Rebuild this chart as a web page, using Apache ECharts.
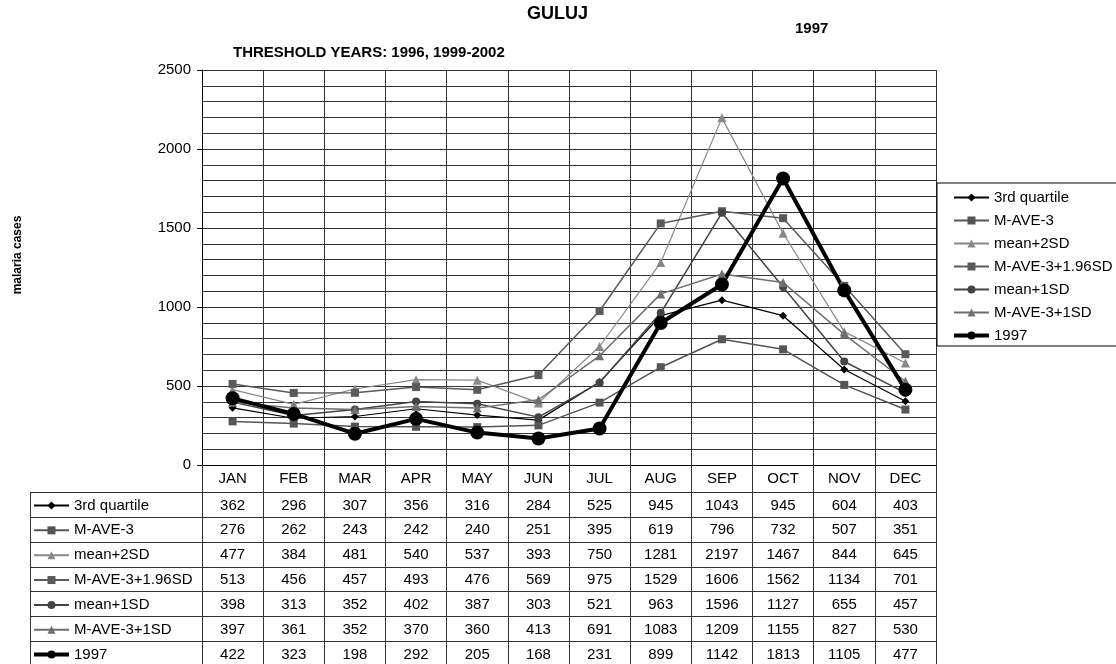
<!DOCTYPE html>
<html>
<head>
    <meta charset="utf-8">
    <title>GULUJ 1997</title>
    <script src="https://cdn.jsdelivr.net/npm/echarts@6/dist/echarts.min.js"></script>
    <style>
        html, body {
            margin: 0;
            padding: 0;
            background: #ffffff;
        }

        #main {
            width: 1116px;
            height: 664px;
        }
    </style>
</head>
<body>
<div id="main"></div>
<script>
    // 数据
    var months = ['JAN', 'FEB', 'MAR', 'APR', 'MAY', 'JUN', 'JUL', 'AUG', 'SEP', 'OCT', 'NOV', 'DEC'];
    var q3 = [362, 296, 307, 356, 316, 284, 525, 945, 1043, 945, 604, 403];
    var mave3 = [276, 262, 243, 242, 240, 251, 395, 619, 796, 732, 507, 351];
    var mean2sd = [477, 384, 481, 540, 537, 393, 750, 1281, 2197, 1467, 844, 645];
    var mave3sd196 = [513, 456, 457, 493, 476, 569, 975, 1529, 1606, 1562, 1134, 701];
    var mean1sd = [398, 313, 352, 402, 387, 303, 521, 963, 1596, 1127, 655, 457];
    var mave3sd1 = [397, 361, 352, 370, 360, 413, 691, 1083, 1209, 1155, 827, 530];
    var y1997 = [422, 323, 198, 292, 205, 168, 231, 899, 1142, 1813, 1105, 477];

    var names = ['3rd quartile', 'M-AVE-3', 'mean+2SD', 'M-AVE-3+1.96SD', 'mean+1SD', 'M-AVE-3+1SD', '1997'];
    var rows = [q3, mave3, mean2sd, mave3sd196, mean1sd, mave3sd1, y1997];

    var FONT = "'Liberation Sans', Arial, sans-serif";
    var rowH = 24.85;

    function lineSeries(name, data, color, symbol, size, width) {
        return {
            name: name,
            type: 'line',
            data: data,
            symbol: symbol,
            symbolSize: size,
            showAllSymbol: true,
            animation: false,
            lineStyle: {color: color, width: width},
            itemStyle: {color: color, borderWidth: 0}
        };
    }

    // 图例项 (1997 用粗线)
    var legendData = names.map(function (n) {
        if (n === '1997') {
            return {name: n, lineStyle: {width: 4}};
        }
        return {name: n};
    });

    var chart = echarts.init(document.getElementById('main'));

    var option = {
        animation: false,
        backgroundColor: '#ffffff',
        title: [
            {text: 'GULUJ', left: 527, top: 5, padding: 0,
                textStyle: {fontFamily: FONT, fontSize: 18, fontWeight: 'bold', color: '#000'}},
            {text: '1997', left: 795, top: 21, padding: 0,
                textStyle: {fontFamily: FONT, fontSize: 15, fontWeight: 'bold', color: '#000'}},
            {text: 'THRESHOLD YEARS: 1996, 1999-2002', left: 233, top: 45, padding: 0,
                textStyle: {fontFamily: FONT, fontSize: 15, fontWeight: 'bold', color: '#000'}}
        ],
        legend: [
            {
                orient: 'vertical',
                left: 937,
                top: 183,
                padding: [7, 5, 3, 15],
                itemGap: 8,
                itemWidth: 35,
                itemHeight: 10,
                borderColor: '#000',
                borderWidth: 1,
                selectedMode: false,
                data: legendData,
                textStyle: {fontFamily: FONT, fontSize: 15, lineHeight: 15, color: '#000'}
            },
            {
                orient: 'vertical',
                left: 32,
                top: 498,
                height: 200,
                padding: 0,
                itemGap: rowH - 15,
                itemWidth: 35,
                itemHeight: 10,
                selectedMode: false,
                data: legendData,
                textStyle: {fontFamily: FONT, fontSize: 15, lineHeight: 15, color: '#000'}
            }
        ],
        grid: {left: 202, right: 180, top: 70, bottom: 199},
        xAxis: {
            type: 'category',
            data: months,
            boundaryGap: true,
            axisLine: {lineStyle: {color: '#000', width: 1}},
            axisTick: {show: true, length: 200, lineStyle: {color: '#333'}},
            axisLabel: {fontFamily: FONT, fontSize: 15, color: '#000', margin: 6, interval: 0},
            splitLine: {show: true, lineStyle: {color: '#333', width: 1}}
        },
        yAxis: {
            type: 'value',
            min: 0,
            max: 2500,
            interval: 500,
            axisLine: {show: true, lineStyle: {color: '#000', width: 1}},
            axisTick: {show: true, length: 5, lineStyle: {color: '#000'}},
            axisLabel: {
                fontFamily: FONT, fontSize: 15, color: '#000', margin: 11,
                formatter: function (v) {
                    return String(v);
                }
            },
            splitLine: {show: true, lineStyle: {color: '#333', width: 1}},
            minorTick: {show: false, splitNumber: 5},
            minorSplitLine: {show: true, lineStyle: {color: '#333', width: 1}}
        },
        series: [
            lineSeries(names[0], q3, '#000000', 'diamond', 8, 1.2),
            lineSeries(names[1], mave3, '#555555', 'rect', 8, 1.5),
            lineSeries(names[2], mean2sd, '#888888', 'triangle', 9, 1.2),
            lineSeries(names[3], mave3sd196, '#5a5a5a', 'rect', 8, 1.5),
            lineSeries(names[4], mean1sd, '#444444', 'circle', 8, 1.5),
            lineSeries(names[5], mave3sd1, '#6e6e6e', 'triangle', 9, 1.5),
            lineSeries(names[6], y1997, '#000000', 'circle', 14, 4)
        ]
    };
    chart.setOption(option);

    // 数据表 (画在坐标轴下方)
    function buildTable() {
        var x0 = chart.convertToPixel({yAxisIndex: 0}, 0);
        var colW = chart.convertToPixel({xAxisIndex: 0}, 1) - chart.convertToPixel({xAxisIndex: 0}, 0);
        var left = chart.convertToPixel({xAxisIndex: 0}, 0) - colW / 2;
        var right = left + colW * months.length;
        var tableTop = x0 + 27;
        var els = [];

        // 横线
        for (var r = 0; r <= rows.length; r++) {
            var y = Math.round(tableTop + r * rowH) + 0.5;
            els.push({
                type: 'line', silent: true,
                shape: {x1: 30, y1: y, x2: right, y2: y},
                style: {stroke: '#333', lineWidth: 1}
            });
        }
        // 左边线
        els.push({
            type: 'line', silent: true,
            shape: {x1: 30.5, y1: Math.round(tableTop) + 0.5, x2: 30.5, y2: 664},
            style: {stroke: '#333', lineWidth: 1}
        });
        els.push({
            type: 'line', silent: true,
            shape: {x1: Math.round(left) + 0.5, y1: Math.round(tableTop), x2: Math.round(left) + 0.5, y2: 664},
            style: {stroke: '#333', lineWidth: 1}
        });

        // 数值
        for (var i = 0; i < rows.length; i++) {
            for (var j = 0; j < months.length; j++) {
                els.push({
                    type: 'text', silent: true,
                    x: chart.convertToPixel({xAxisIndex: 0}, j),
                    y: tableTop + (i + 0.5) * rowH + 1,
                    style: {
                        text: String(rows[i][j]),
                        fontFamily: FONT,
                        fontSize: 15,
                        fill: '#000',
                        align: 'center',
                        verticalAlign: 'middle'
                    }
                });
            }
        }

        // 纵轴标题
        els.push({
            type: 'text', silent: true,
            x: 18, y: 255,
            rotation: Math.PI / 2,
            style: {
                text: 'malaria cases',
                fontFamily: FONT,
                fontSize: 12,
                fontWeight: 'bold',
                fill: '#000',
                align: 'center',
                verticalAlign: 'middle'
            }
        });

        chart.setOption({graphic: els});
    }

    buildTable();
</script>
</body>
</html>
